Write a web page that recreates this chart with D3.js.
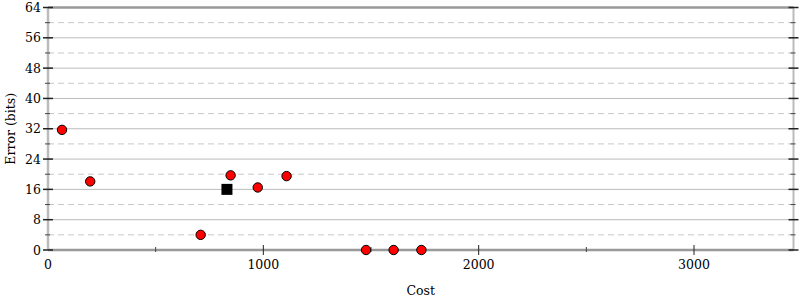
<!DOCTYPE html>
<html>
<head>
<meta charset="utf-8">
<script src="https://cdn.jsdelivr.net/npm/d3@7"></script>
<style>
    body { margin: 0; background: #fff; }
    svg text { font-family: 'DejaVu Serif', 'Liberation Serif', serif; font-size: 12.5px; fill: #000; }
</style>
</head>
<body>
<div id="chart"></div>
<script>
// data
var costs  = [65, 196, 709, 848, 974, 1108, 1477, 1605, 1734];
var errors = [31.7, 18.1, 4.0, 19.7, 16.5, 19.5, 0, 0, 0];
var bestCost = [831];
var bestError = [16.0];
var xTicks = [0, 1000, 2000, 3000];
var xMinorTicks = [500, 1500, 2500];
var yTicks = [0, 8, 16, 24, 32, 40, 48, 56, 64];
var yMinorTicks = [4, 12, 20, 28, 36, 44, 52, 60];

var margin = {top: 7.5, right: 6.5, bottom: 50, left: 48},
    width = 800 - margin.left - margin.right,
    height = 300 - margin.top - margin.bottom;

var x = d3.scaleLinear().domain([0, 3462]).range([0, width]);
var y = d3.scaleLinear().domain([0, 64]).range([height, 0]);

var svg = d3.select("#chart").append("svg")
    .attr("width", 800)
    .attr("height", 300)
    .append("g")
    .attr("transform", "translate(" + margin.left + "," + margin.top + ")");

// grid
svg.selectAll(".gmin")
    .data(yMinorTicks)
    .enter().append("line")
    .attr("x1", 0).attr("x2", width)
    .attr("y1", function (d) { return y(d); })
    .attr("y2", function (d) { return y(d); })
    .style("stroke", "#c8c8c8")
    .style("stroke-dasharray", "6,4");

svg.selectAll(".gmaj")
    .data(yTicks.slice(1, -1))
    .enter().append("line")
    .attr("x1", 0).attr("x2", width)
    .attr("y1", function (d) { return y(d); })
    .attr("y2", function (d) { return y(d); })
    .style("stroke", "#bbb");

// frame
svg.append("line")
    .attr("x1", 0).attr("x2", 0).attr("y1", 0).attr("y2", height)
    .style("stroke", "#bbb").style("stroke-width", 2.5);
svg.append("line")
    .attr("x1", width).attr("x2", width).attr("y1", 0).attr("y2", height)
    .style("stroke", "#bbb").style("stroke-width", 2);
svg.append("line")
    .attr("x1", 0).attr("x2", width).attr("y1", 0).attr("y2", 0)
    .style("stroke", "#999").style("stroke-width", 2.5);
svg.append("line")
    .attr("x1", 0).attr("x2", width).attr("y1", height).attr("y2", height)
    .style("stroke", "#999").style("stroke-width", 2.5);

// y ticks both sides
[0, width].forEach(function (x0) {
    svg.selectAll(null)
        .data(yTicks)
        .enter().append("line")
        .attr("x1", x0 - 5).attr("x2", x0 + 5)
        .attr("y1", function (d) { return y(d); })
        .attr("y2", function (d) { return y(d); })
        .style("stroke", "#222").style("stroke-width", 1.5);
    svg.selectAll(null)
        .data(yMinorTicks)
        .enter().append("line")
        .attr("x1", x0 - 3).attr("x2", x0 + 2)
        .attr("y1", function (d) { return y(d); })
        .attr("y2", function (d) { return y(d); })
        .style("stroke", "#444");
});

// x ticks
svg.selectAll(null)
    .data(xTicks.slice(1))
    .enter().append("line")
    .attr("x1", function (d) { return x(d); })
    .attr("x2", function (d) { return x(d); })
    .attr("y1", height - 5).attr("y2", height + 5)
    .style("stroke", "#222");
svg.selectAll(null)
    .data(xMinorTicks)
    .enter().append("line")
    .attr("x1", function (d) { return x(d); })
    .attr("x2", function (d) { return x(d); })
    .attr("y1", height - 3).attr("y2", height + 2)
    .style("stroke", "#444");

// tick labels
svg.selectAll(null)
    .data(yTicks)
    .enter().append("text")
    .attr("x", -7)
    .attr("y", function (d) { return y(d); })
    .attr("dy", "0.36em")
    .style("text-anchor", "end")
    .text(function (d) { return d; });

svg.selectAll(null)
    .data(xTicks)
    .enter().append("text")
    .attr("x", function (d) { return x(d); })
    .attr("y", height + 19)
    .style("text-anchor", "middle")
    .text(function (d) { return d; });

// axis titles
svg.append("text")
    .attr("x", width / 2)
    .attr("y", height + 45)
    .style("text-anchor", "middle")
    .text("Cost");

svg.append("text")
    .attr("transform", "translate(" + (15 - margin.left) + "," + (height / 2) + ") rotate(-90)")
    .style("text-anchor", "middle")
    .text("Error (bits)");

// points
svg.selectAll(".dot")
    .data(d3.zip(costs, errors))
    .enter().append("circle")
    .attr("r", 4.7)
    .attr("cx", function (d) { return x(d[0]); })
    .attr("cy", function (d) { return y(d[1]); })
    .style("fill", "#ff0000")
    .style("stroke", "#000")
    .style("stroke-width", 1);

svg.selectAll(".best")
    .data(d3.zip(bestCost, bestError))
    .enter().append("rect")
    .attr("width", 11).attr("height", 11)
    .attr("x", function (d) { return x(d[0]) - 5.5; })
    .attr("y", function (d) { return y(d[1]) - 5.5; })
    .style("fill", "#000");
</script>
</body>
</html>
